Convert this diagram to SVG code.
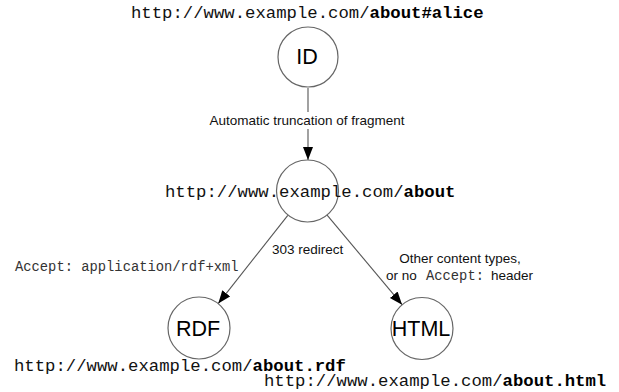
<svg xmlns="http://www.w3.org/2000/svg" width="619" height="392" viewBox="0 0 619 392">
  <style>
    .node { fill: #ffffff; stroke: #666666; stroke-width: 1.2; }
    .edge { fill: none; stroke: #555555; stroke-width: 1.1; }
    .lbl { font-family: "Liberation Sans", Arial, Helvetica, sans-serif; font-size: 13.5px; fill: #111111; }
    .big { font-family: "Liberation Sans", Arial, Helvetica, sans-serif; font-size: 21.5px; fill: #000000; text-anchor: middle; }
    .uri { font-family: "Liberation Mono", "Courier New", monospace; font-size: 17.3px; fill: #111111; }
    .code { font-family: "Liberation Mono", "Courier New", monospace; font-size: 13.8px; fill: #333333; }
    .b { font-weight: bold; fill: #000000; }
  </style>
  <defs>
    <marker id="arrow" markerWidth="14" markerHeight="11" refX="13" refY="5" orient="auto" markerUnits="userSpaceOnUse">
      <path d="M0,0 L13,5 L0,10 z" fill="#000000"/>
    </marker>
  </defs>
  <rect width="619" height="392" fill="#ffffff"/>

  <!-- connectors -->
  <g id="connectors">
    <line class="edge" x1="308" y1="88" x2="308" y2="160" marker-end="url(#arrow)"/>
    <rect x="204" y="112" width="206" height="17" fill="#ffffff"/>
    <text class="lbl" x="307" y="125" text-anchor="middle">Automatic truncation of fragment</text>

    <line class="edge" x1="287.8" y1="215.4" x2="218.2" y2="303.6" marker-end="url(#arrow)"/>
    <line class="edge" x1="326.9" y1="214.8" x2="402.1" y2="304.7" marker-end="url(#arrow)"/>
    <text class="lbl" x="272" y="254">303 redirect</text>

    <text class="code" x="15" y="271">Accept: application/rdf+xml</text>

    <text class="lbl" x="460" y="263" text-anchor="middle">Other content types,</text>
    <text class="lbl" y="280"><tspan x="386">or no</tspan><tspan class="code" x="426">Accept:</tspan><tspan x="491">header</tspan></text>
  </g>

  <!-- fragment identifier node -->
  <g id="node-id">
    <circle class="node" cx="308" cy="57" r="30"/>
    <text class="big" x="307" y="64">ID</text>
    <text class="uri" x="131" y="18">http://www.example.com/<tspan class="b">about#alice</tspan></text>
  </g>

  <!-- generic resource node -->
  <g id="node-about">
    <circle class="node" cx="307.5" cy="191" r="31"/>
    <text class="uri" x="165" y="197">http://www.example.com/<tspan class="b">about</tspan></text>
  </g>

  <!-- RDF representation -->
  <g id="node-rdf">
    <circle class="node" cx="199" cy="328" r="31"/>
    <text class="big" x="198" y="335.5">RDF</text>
    <text class="uri" x="14" y="371">http://www.example.com/<tspan class="b">about.rdf</tspan></text>
  </g>

  <!-- HTML representation -->
  <g id="node-html">
    <circle class="node" cx="422" cy="328.5" r="31"/>
    <text class="big" x="421" y="335.5">HTML</text>
    <text class="uri" x="264" y="386">http://www.example.com/<tspan class="b">about.html</tspan></text>
  </g>
</svg>
